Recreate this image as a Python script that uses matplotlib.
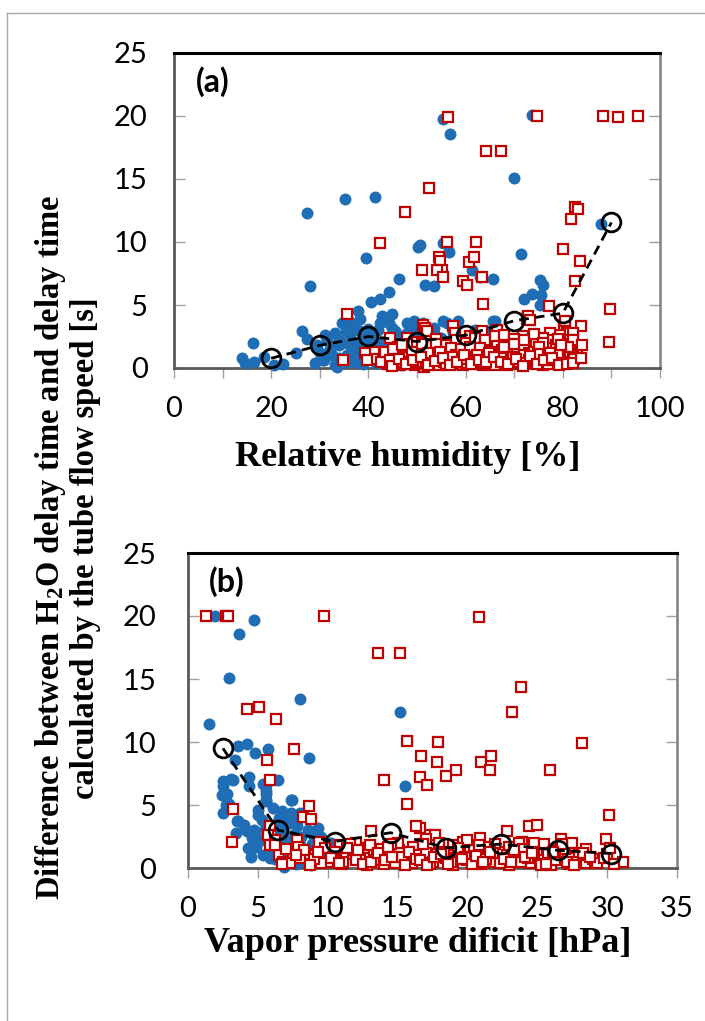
import matplotlib
matplotlib.use('Agg')
import matplotlib.pyplot as plt
from matplotlib.lines import Line2D
from matplotlib.ticker import MultipleLocator

# ---- panel (a): relative humidity ----
rh_blue = [27.4, 35.1, 41.4, 39.5, 27.9, 50.3, 50.7, 55.4, 56.5, 46.3, 44.2, 42.4, 40.5, 37.8, 38.2,
           42.8, 44.8, 42.3, 44.2, 26.4, 27.4, 16.2, 14.0, 14.7, 16.4, 55.4, 56.7, 73.7, 70.0, 87.8,
           71.5, 51.7, 53.4, 61.3, 63.0, 65.6, 75.3, 75.9, 75.6, 75.3, 72.1, 73.6, 66.0, 49.3, 56.1,
           58.5, 65.7, 64.7,
           33.2, 35.3, 37.1, 36.3, 33.9, 35.3, 38.3, 37.7, 30.8, 33.2, 35.6, 37.3, 40.0, 44.8, 45.5,
           41.4, 42.4, 44.5, 51.3, 53.4, 53.7, 55.4, 57.5, 54.8, 51.7, 53.4, 47.9, 46.9, 46.2, 32.0,
           30.0, 29.0, 31.5, 34.0, 36.5, 38.8, 39.5, 41.0, 43.0, 48.5, 50.0, 49.0, 56.0, 58.5, 60.5,
           62.0, 59.0, 45.0, 47.0, 34.5, 25.0, 22.5, 18.5, 20.5, 30.7, 33.5]
dt_blue_a = [12.3, 13.4, 13.6, 8.75, 6.5, 9.6, 9.75, 9.9, 9.2, 7.1, 6.0, 5.45, 5.2, 4.5, 3.9,
             4.1, 4.3, 3.55, 3.55, 2.9, 2.3, 1.96, 0.8, 0.4, 0.45, 19.8, 18.6, 20.1, 15.1, 11.4,
             9.05, 6.6, 6.5, 7.8, 7.25, 7.1, 7.0, 6.6, 5.8, 5.0, 5.5, 5.9, 3.75, 3.75, 3.55,
             3.7, 3.7, 2.9,
             2.75, 2.9, 3.3, 2.5, 1.8, 1.95, 2.9, 1.7, 0.63, 0.24, 1.0, 0.5, 0.9, 3.15, 2.9,
             1.8, 1.3, 0.9, 3.55, 2.75, 1.8, 3.7, 2.75, 1.55, 0.9, 0.5, 3.55, 2.5, 1.55, 1.5,
             1.2, 0.4, 2.2, 0.8, 1.3, 0.3, 1.9, 2.6, 2.1, 2.1, 1.2, 0.6, 1.0, 1.6, 2.3,
             3.0, 0.6, 0.4, 0.2, 3.6, 1.2, 0.3, 0.9, 0.2, 0.6, 0.1]
rh_blue_more = [29.5, 31.0, 32.5, 34.0, 35.5, 37.0, 38.5, 40.0, 41.5, 43.0, 44.5, 46.0, 47.5, 49.0,
                50.5, 52.0, 53.5, 55.0, 56.5, 58.0, 36.0, 39.0, 42.0, 45.0, 48.0, 51.0, 54.0]
dt_blue_a_more = [1.8, 2.6, 1.0, 2.2, 0.5, 2.0, 1.2, 3.1, 0.4, 1.5, 2.3, 0.8, 1.2, 2.9,
                  2.6, 1.4, 3.2, 2.4, 2.1, 0.3, 3.7, 2.4, 3.0, 1.1, 2.8, 2.0, 1.0]

rh_red = [56.3, 74.6, 88.3, 91.4, 95.4, 64.3, 67.3, 52.4, 47.6, 82.6, 83.2, 81.6, 42.4, 80.1, 83.5,
          82.6, 89.7, 89.5, 56.1, 62.2, 54.6, 54.8, 55.1, 54.1, 55.4, 51.1, 60.6, 61.7, 59.4, 60.2,
          63.3, 63.5, 77.2, 83.7, 80.2, 80.8, 51.3, 51.7, 52.0, 57.5, 57.8, 66.5, 72.6, 63.3, 35.6,
          34.7, 41.2, 40.9, 39.4, 39.7, 44.5, 45.2, 47.9, 60.9, 80.4, 82.1, 79.4, 81.4, 81.8, 77.4,
          77.7, 76.0, 78.0, 78.4, 71.9, 73.9, 73.0, 74.6, 75.3, 66.4, 67.8, 69.1, 69.8, 71.2, 67.1,
          65.0, 63.7, 62.3, 72.9, 73.2,
          44.0, 45.5, 46.5, 47.5, 48.0, 49.0, 49.5, 50.5, 51.0, 51.5, 52.5, 53.0, 53.5, 54.0, 54.5,
          55.0, 55.5, 56.0, 56.5, 57.0, 57.5, 58.0, 58.5, 59.0, 59.5, 60.0, 60.5, 61.0, 61.5, 62.0,
          62.5, 63.0, 63.5, 64.0, 64.5, 65.0, 65.5, 66.0, 66.5, 67.0, 67.5, 68.0, 68.5, 69.0, 69.5,
          70.0, 70.5, 71.0, 71.5, 72.0, 72.5, 73.0, 73.5, 74.0, 74.5, 75.0, 75.5, 76.0, 76.5, 77.0,
          77.5, 78.0, 78.5, 79.0, 79.5, 80.0, 80.5, 81.0, 81.5, 82.0, 83.0, 84.0, 42.5, 43.5, 46.0,
          48.5, 50.0, 52.0, 54.0, 58.0, 60.0, 62.0, 64.0, 66.0, 68.0, 70.0, 72.0, 74.0, 76.0, 79.0]
dt_red_a = [19.95, 20.0, 20.0, 19.9, 20.0, 17.2, 17.2, 14.3, 12.35, 12.8, 12.6, 11.8, 9.9, 9.45, 8.5,
            6.9, 4.7, 2.1, 10.0, 10.0, 8.8, 8.5, 7.8, 7.8, 7.2, 7.8, 8.4, 8.8, 6.9, 6.6,
            7.25, 5.1, 4.9, 3.3, 3.4, 2.8, 3.4, 3.15, 2.9, 3.3, 2.75, 2.9, 3.9, 2.9, 4.3,
            0.6, 1.3, 0.7, 1.2, 0.6, 2.35, 1.55, 2.35, 2.5, 3.7, 2.75, 2.6, 2.2, 1.8, 2.75,
            2.2, 2.35, 1.55, 0.9, 2.5, 2.35, 1.8, 1.4, 1.0, 3.0, 2.2, 2.0, 1.3, 1.55, 1.15,
            1.8, 1.0, 1.4, 4.1, 3.8,
            0.3, 0.8, 0.2, 1.1, 0.5, 0.9, 0.2, 1.4, 0.6, 0.1, 1.0, 0.4, 1.6, 0.8, 0.2,
            1.2, 0.5, 1.8, 0.9, 0.3, 1.3, 0.6, 1.9, 1.0, 0.2, 1.5, 0.7, 0.3, 1.1, 1.9,
            0.5, 1.3, 0.2, 0.8, 1.6, 0.4, 1.1, 0.7, 1.9, 0.3, 1.4, 0.8, 0.2, 1.1, 1.7,
            0.5, 1.2, 0.9, 0.3, 1.6, 0.7, 1.2, 0.4, 0.9, 1.9, 0.6, 1.3, 0.2, 0.9, 1.6,
            0.5, 1.1, 1.8, 0.7, 1.4, 0.9, 1.9, 0.6, 1.3, 2.2, 1.0, 1.8, 0.5, 1.3, 1.7,
            1.9, 2.1, 1.9, 2.3, 2.2, 2.0, 2.4, 2.2, 2.5, 2.6, 2.3, 2.2, 2.7, 2.0, 2.3]
rh_red_more = [45, 46, 47, 48, 49, 50, 51, 52, 53, 54, 55, 56, 57, 58, 59, 60, 61, 62, 63,
               64, 65, 66, 67, 68, 69, 70, 71, 72, 73, 74, 75, 76, 77, 78, 79, 80, 81, 82,
               44.5, 47.2, 49.8, 52.3, 54.7, 57.3, 59.8, 62.4, 64.8, 67.3, 69.7, 72.3, 74.8,
               77.3, 79.7, 82.4,
               44.8, 46.2, 47.7, 49.2, 50.8, 52.2, 53.7, 55.3, 56.8, 58.3, 59.7, 61.2, 62.8,
               64.3, 65.8, 67.2, 68.7, 70.3, 71.8, 73.3, 74.7, 76.2, 77.8, 79.3, 80.8, 82.2, 83.7]
dt_red_a_more = [1.5, 0.4, 1.8, 0.9, 1.3, 0.3, 1.9, 0.7, 1.2, 1.9, 0.6, 0.3, 1.6, 1.0, 1.5,
                 0.4, 1.7, 0.9, 1.6, 0.3, 1.3, 0.2, 1.0, 1.7, 0.6, 1.9, 0.5, 1.0, 0.6, 1.3,
                 1.7, 1.0, 0.3, 0.6, 1.0, 0.4, 1.7, 0.9,
                 0.6, 0.5, 0.5, 1.2, 1.3, 0.9, 0.7, 1.0, 1.2, 0.8, 0.9, 0.4, 1.1, 1.2, 1.8, 0.7,
                 0.15, 0.7, 0.35, 0.6, 0.9, 0.25, 0.55, 0.8, 0.2, 0.45, 1.0, 0.3, 0.65,
                 0.5, 0.85, 0.45, 0.3, 0.75, 0.15, 0.95, 0.3, 0.6, 0.8, 0.25, 0.3, 0.4, 0.8]

rh_mean = [20, 30, 40, 50, 60, 70, 80, 90]
dt_mean_a = [0.77, 1.8, 2.5, 2.1, 2.6, 3.75, 4.35, 11.55]

# ---- panel (b): vapor pressure deficit ----
vpd_blue = [1.93, 4.74, 3.67, 2.93, 8.0, 1.5, 15.2, 15.5, 3.55, 4.2, 4.8, 5.7, 8.64, 6.45, 3.36,
            2.5, 2.5, 2.4, 2.7, 3.1, 4.4, 4.4, 5.6, 5.6, 5.6, 7.45, 3.5, 3.4, 3.2, 2.8,
            2.9, 2.5, 3.6,
            4.2, 4.7, 4.55, 5.0, 4.9, 5.4, 5.0, 5.6, 5.6, 5.4, 7.4, 7.4, 7.05, 8.0, 6.7,
            7.8, 8.1, 7.05, 8.2, 7.6, 8.95, 9.3, 9.4, 9.9, 9.2, 8.6, 9.55, 6.9, 6.0, 6.3,
            5.8, 6.6, 7.2, 6.2, 5.2, 4.5, 8.4, 10.2, 10.5, 6.8, 7.5, 8.8]
dt_blue_b = [20.0, 19.7, 18.6, 15.1, 13.4, 11.4, 12.35, 6.5, 9.7, 9.85, 9.1, 9.45, 8.7, 7.0, 8.6,
             6.9, 6.5, 5.8, 5.0, 7.1, 7.2, 6.5, 6.6, 5.9, 5.3, 5.4, 3.7, 2.75, 7.0, 5.9,
             5.1, 4.35, 3.7,
             2.9, 3.0, 2.35, 4.2, 1.7, 1.0, 4.6, 5.4, 6.1, 6.7, 5.4, 4.35, 4.1, 4.35, 4.5,
             3.3, 2.5, 0.4, 0.5, 1.0, 2.6, 3.2, 1.7, 0.9, 0.6, 3.0, 2.5, 0.1, 2.0, 3.5,
             1.2, 2.7, 1.9, 0.7, 2.2, 0.9, 1.4, 2.0, 1.1, 3.1, 2.6, 0.2]
vpd_blue_more = [4.0, 4.8, 5.3, 5.9, 6.4, 6.9, 7.3, 7.7, 8.3, 8.9, 9.6, 5.5, 6.5, 7.0, 8.0,
                 4.3, 6.1, 7.9]
dt_blue_b_more = [3.4, 2.6, 3.8, 0.8, 1.5, 2.3, 3.6, 0.3, 1.1, 1.9, 1.3, 3.1, 4.0, 1.2, 1.8,
                  1.6, 4.8, 3.9]

vpd_red = [1.26, 2.7, 2.85, 9.7, 13.6, 15.2, 4.24, 5.07, 6.33, 7.57, 5.67, 5.86, 3.24, 3.17, 8.64,
           8.24, 8.83, 15.7, 14.0, 15.7, 13.1, 20.86, 23.8, 23.2, 28.2, 17.9, 16.7, 17.8, 21.0, 21.7,
           21.6, 19.2, 18.5, 16.6, 17.1, 25.9, 30.1, 29.9, 16.6, 24.4, 25.0, 22.8, 26.7, 20.9, 23.9,
           28.4, 31.1, 5.86, 5.7, 5.86, 6.2, 7.8, 7.5, 7.9, 8.7, 9.4, 9.07, 16.3, 17.3, 17.7,
           19.7, 21.3, 23.7, 26.3, 24.8, 27.5,
           11.3, 11.8, 12.3, 12.6, 13.5, 13.95, 14.4, 15.1, 15.6, 16.1, 16.45, 10.9, 10.0, 10.5, 11.0,
           12.0, 13.0, 14.0, 15.0, 16.0, 17.0, 17.5, 18.0, 18.5, 19.0, 19.5, 20.0, 20.5, 21.0, 21.5,
           22.0, 22.5, 23.0, 23.5, 24.0, 24.5, 25.0, 25.5, 26.0, 26.5, 27.0, 28.0, 29.0, 30.0, 30.5,
           6.5, 7.0, 6.8, 8.0, 9.5, 17.0, 18.0, 19.0, 20.0, 22.0, 23.0, 25.5, 27.5, 28.5, 14.5,
           12.0]
dt_red_b = [20.0, 20.0, 20.0, 20.0, 17.1, 17.1, 12.65, 12.8, 11.8, 9.45, 8.55, 6.95, 4.67, 2.1, 4.9,
            4.03, 3.9, 10.05, 6.95, 5.1, 2.9, 19.95, 14.35, 12.35, 9.9, 10.0, 8.85, 8.45, 8.45, 8.85,
            7.75, 7.75, 7.3, 7.2, 6.6, 7.8, 4.2, 2.3, 3.2, 3.3, 3.4, 2.9, 2.3, 2.35, 2.1,
            0.4, 0.5, 3.3, 2.6, 1.8, 2.2, 2.2, 0.9, 1.7, 1.15, 2.1, 1.0, 3.3, 2.6, 2.6,
            2.1, 1.7, 1.95, 1.4, 1.95, 0.8,
            1.15, 1.4, 0.9, 1.55, 1.0, 0.8, 1.15, 1.4, 0.6, 1.7, 1.0, 1.8, 0.5, 1.3, 0.3,
            0.6, 1.8, 0.3, 2.0, 0.4, 1.2, 0.5, 1.6, 0.8, 0.2, 1.2, 0.6, 1.5, 0.3, 1.0,
            0.5, 1.3, 0.2, 0.9, 1.5, 0.4, 1.1, 0.6, 0.2, 0.9, 1.5, 1.0, 0.7, 1.1, 0.3,
            1.0, 1.5, 0.5, 0.8, 0.4, 2.3, 2.0, 1.8, 2.2, 1.9, 1.7, 1.9, 2.0, 1.5, 1.9,
            2.0]
vpd_red_more = [6.2, 7.3, 8.3, 9.0, 9.8, 10.4, 11.1, 11.6, 12.2, 12.8, 13.3, 13.8, 14.3, 14.8,
                15.3, 15.8, 16.3, 16.8, 17.3, 17.8, 18.3, 18.8, 19.3, 19.8, 20.3, 20.8, 21.3,
                21.8, 22.3, 22.8, 23.3, 23.8, 24.3, 24.8, 25.3, 25.8, 26.3, 26.8, 27.3, 27.8,
                28.3, 29.3, 29.8, 30.2,
                6.7, 7.7, 8.7, 9.3, 10.2, 10.8, 11.4, 12.5, 13.1, 13.6, 14.1, 14.6, 15.5, 16.6,
                17.1, 17.6, 18.1, 18.6, 19.6, 20.6, 21.1, 21.6, 22.6, 23.1, 24.1, 24.6, 25.6,
                26.1, 27.1, 27.6, 28.8]
dt_red_b_more = [1.8, 0.4, 1.4, 0.7, 1.6, 0.9, 0.5, 1.9, 1.4, 0.2, 0.6, 1.5, 1.7, 0.4,
                 0.9, 1.3, 0.7, 1.9, 0.3, 1.1, 1.3, 0.5, 1.6, 0.9, 0.3, 1.8, 0.7,
                 1.2, 0.4, 1.0, 1.4, 0.5, 0.8, 1.3, 0.2, 1.2, 0.6, 1.9, 0.3, 0.5,
                 1.2, 0.4, 0.8, 1.6,
                 0.3, 1.0, 0.2, 1.3, 0.8, 0.4, 1.6, 0.3, 0.5, 1.2, 0.6, 0.9, 0.2, 0.6,
                 0.25, 0.9, 1.1, 0.35, 0.7, 0.95, 0.5, 1.25, 0.75, 0.45, 0.85, 1.2, 0.35,
                 1.3, 0.45, 0.2, 0.9]

vpd_mean = [2.5, 6.45, 10.5, 14.5, 18.5, 22.4, 26.5, 30.3]
dt_mean_b = [9.5, 3.0, 2.1, 2.8, 1.6, 1.9, 1.4, 1.15]

BLUE = '#1f6db5'
RED = '#c00000'
TICK_FONT = ['Lato', 'DejaVu Sans']
SERIF = ['Liberation Serif', 'DejaVu Serif']

plt.rcParams['mathtext.fontset'] = 'custom'
plt.rcParams['mathtext.rm'] = 'Liberation Serif:bold'
plt.rcParams['mathtext.it'] = 'Liberation Serif:bold'
plt.rcParams['mathtext.bf'] = 'Liberation Serif:bold'

fig = plt.figure(figsize=(7.05, 10.21), dpi=100)
ax1 = fig.add_axes([174/705, 1-368/1021, 486/705, 315/1021])
ax2 = fig.add_axes([188/705, 1-868/1021, 489/705, 315/1021])


def draw_panel(ax, xb, yb, xr, yr, xm, ym, xmax, xmaj, xmin, ypad, tag, tagpos):
    ax.plot(xb, yb, 'o', color=BLUE, markersize=8.6, markeredgewidth=0, clip_on=False, zorder=3)
    ax.plot(xr, yr, 's', markerfacecolor='white', markeredgecolor=RED, markersize=7.2,
            markeredgewidth=1.6, clip_on=False, zorder=4)
    ax.plot(xm, ym, '--', color='black', linewidth=2, dashes=(3.5, 2.2), zorder=5)
    ax.plot(xm, ym, 'o', markerfacecolor='none', markeredgecolor='black', markersize=13.5,
            markeredgewidth=2, zorder=6)
    ax.set_xlim(0, xmax)
    ax.set_ylim(0, 25)
    ax.xaxis.set_major_locator(MultipleLocator(xmaj))
    ax.xaxis.set_minor_locator(MultipleLocator(xmin))
    ax.yaxis.set_major_locator(MultipleLocator(5))
    ax.tick_params(axis='y', which='both', direction='in', left=True, right=True,
                   length=8, width=1, color='#a0a0a0', pad=ypad, labelsize=21)
    ax.tick_params(axis='x', which='both', direction='out', length=7, width=1,
                   color='#a0a0a0', pad=13, labelsize=21)
    for lab in ax.get_xticklabels() + ax.get_yticklabels():
        lab.set_family(TICK_FONT)
    ax.spines['top'].set_color('black')
    ax.spines['top'].set_linewidth(2.2)
    for s in ['left', 'bottom']:
        ax.spines[s].set_color('#595959')
        ax.spines[s].set_linewidth(2)
    ax.spines['right'].set_color('#7f7f7f')
    ax.spines['right'].set_linewidth(1.8)
    ax.text(tagpos[0], tagpos[1], tag, transform=ax.transAxes, fontsize=23,
            fontweight='bold', family=TICK_FONT, ha='center', va='center')


draw_panel(ax1, rh_blue + rh_blue_more, dt_blue_a + dt_blue_a_more,
           rh_red + rh_red_more, dt_red_a + dt_red_a_more, rh_mean, dt_mean_a,
           100, 20, 10, 19, '(a)', (0.08, 0.91))
draw_panel(ax2, vpd_blue + vpd_blue_more, dt_blue_b + dt_blue_b_more,
           vpd_red + vpd_red_more, dt_red_b + dt_red_b_more, vpd_mean, dt_mean_b,
           35, 5, 5, 23, '(b)', (0.08, 0.91))

fig.text(408/705, 1-458/1021, 'Relative humidity [%]', family=SERIF, fontweight='bold',
         fontsize=26, ha='center', va='center')
fig.text(418/705, 1-944/1021, 'Vapor pressure dificit [hPa]', family=SERIF, fontweight='bold',
         fontsize=26, ha='center', va='center')
fig.text(67/705, 1-548/1021,
         'Difference between H$_2$O delay time and delay time\ncalculated by the tube flow speed [s]',
         family=SERIF, fontweight='bold', fontsize=23.5, rotation=90, ha='center', va='center',
         multialignment='center', linespacing=1.1)

# light frame around the figure
fig.add_artist(Line2D([7/705, 7/705], [0, 1-13/1021], transform=fig.transFigure,
                      color='#a6a6a6', linewidth=1))
fig.add_artist(Line2D([7/705, 1], [1-13/1021, 1-13/1021], transform=fig.transFigure,
                      color='#a6a6a6', linewidth=1))

fig.savefig('out.png', dpi=100)
